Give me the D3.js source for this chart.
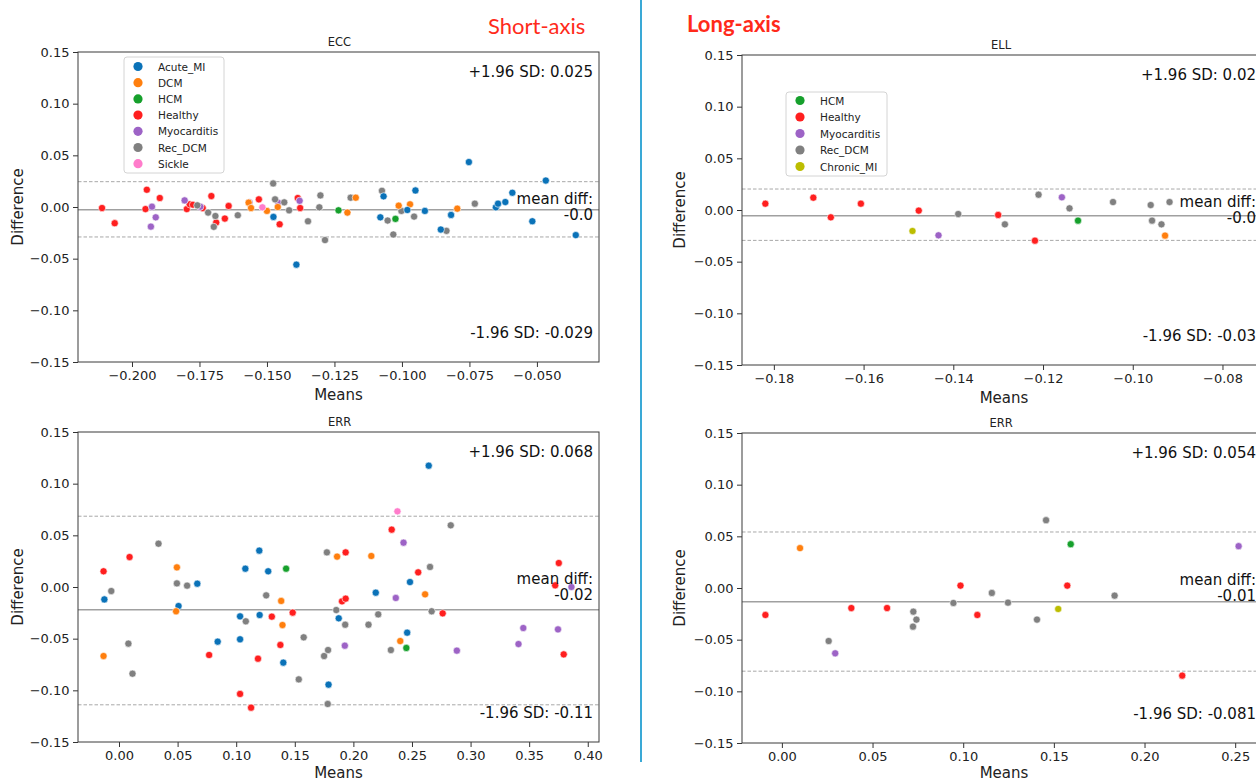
<!DOCTYPE html>
<html><head><meta charset="utf-8">
<script src="https://cdn.jsdelivr.net/npm/d3@7"></script>
<style>body{margin:0;background:#fff}svg{display:block}text{font-family:"DejaVu Sans",sans-serif}</style>
</head><body><svg id="c" width="1256" height="783"></svg>
<script>
// ---------- DATA ----------
const groupNames  = ["Acute_MI","DCM","HCM","Healthy","Myocarditis","Rec_DCM","Sickle","Chronic_MI"];
const groupColors = ["#0a72b8","#ff7f0e","#16a02c","#ff1f1f","#9d63c6","#808080","#ff7ccb","#bcbd00"];

// [group, mean, difference]
const eccPoints = [
 ["Healthy",-0.2111,-0.0010],["Healthy",-0.2064,-0.0157],["Healthy",-0.1945,0.0167],["Healthy",-0.1950,-0.0020],
 ["Healthy",-0.1897,0.0087],["Healthy",-0.1797,-0.0020],["Healthy",-0.1786,0.0026],["Healthy",-0.1774,0.0022],
 ["Healthy",-0.1738,-0.0010],["Healthy",-0.1706,0.0106],["Healthy",-0.1688,-0.0150],["Healthy",-0.1656,-0.0112],
 ["Healthy",-0.1642,0.0010],["Healthy",-0.1530,0.0074],["Healthy",-0.1453,-0.0167],["Healthy",-0.1386,0.0087],
 ["Healthy",-0.1377,-0.0010],
 ["Myocarditis",-0.1926,0.0003],["Myocarditis",-0.1930,-0.0190],["Myocarditis",-0.1912,-0.0100],["Myocarditis",-0.1805,0.0064],
 ["Myocarditis",-0.1747,0.0003],["Myocarditis",-0.1565,0.0045],["Myocarditis",-0.1458,0.0040],["Myocarditis",-0.1379,0.0060],
 ["Rec_DCM",-0.1758,0.0016],["Rec_DCM",-0.1718,-0.0054],["Rec_DCM",-0.1691,-0.0087],["Rec_DCM",-0.1697,-0.0192],
 ["Rec_DCM",-0.1608,-0.0080],["Rec_DCM",-0.1477,0.0228],["Rec_DCM",-0.1470,0.0074],["Rec_DCM",-0.1436,0.0045],
 ["Rec_DCM",-0.1418,-0.0032],["Rec_DCM",-0.1348,-0.0138],["Rec_DCM",-0.1306,-0.0003],["Rec_DCM",-0.1302,0.0112],
 ["Rec_DCM",-0.1285,-0.0320],["Rec_DCM",-0.1190,0.0090],["Rec_DCM",-0.1074,0.0157],["Rec_DCM",-0.1053,-0.0131],
 ["Rec_DCM",-0.1032,-0.0266],["Rec_DCM",-0.1002,-0.0038],["Rec_DCM",-0.0955,-0.0093],["Rec_DCM",-0.0835,-0.0231],
 ["Rec_DCM",-0.0730,0.0032],
 ["DCM",-0.1568,0.0042],["DCM",-0.1559,-0.0010],["DCM",-0.1500,-0.0038],["DCM",-0.1460,0.0000],
 ["DCM",-0.1202,-0.0054],["DCM",-0.1171,0.0090],["DCM",-0.1012,0.0013],["DCM",-0.0970,0.0026],["DCM",-0.0795,-0.0016],
 ["Sickle",-0.1517,-0.0003],
 ["Acute_MI",-0.1476,-0.0096],["Acute_MI",-0.1391,-0.0558],["Acute_MI",-0.1080,-0.0100],["Acute_MI",-0.1068,0.0103],
 ["Acute_MI",-0.0980,-0.0029],["Acute_MI",-0.0950,0.0160],["Acute_MI",-0.0915,-0.0038],["Acute_MI",-0.0856,-0.0218],
 ["Acute_MI",-0.0818,-0.0077],["Acute_MI",-0.0752,0.0435],["Acute_MI",-0.0652,-0.0003],["Acute_MI",-0.0644,0.0032],
 ["Acute_MI",-0.0617,0.0048],["Acute_MI",-0.0591,0.0138],["Acute_MI",-0.0517,-0.0138],["Acute_MI",-0.0467,0.0256],
 ["Acute_MI",-0.0356,-0.0272],
 ["HCM",-0.1235,-0.0032],["HCM",-0.1024,-0.0115]
];

const errShortPoints = [
 ["Acute_MI",0.2643,0.1174],["Acute_MI",0.1197,0.0352],["Acute_MI",0.1078,0.0177],["Acute_MI",0.1273,0.0152],
 ["Acute_MI",0.2483,0.0048],["Acute_MI",0.0668,0.0032],["Acute_MI",-0.0125,-0.0120],["Acute_MI",0.0508,-0.0184],
 ["Acute_MI",0.0842,-0.0529],["Acute_MI",0.1033,-0.0284],["Acute_MI",0.1033,-0.0506],["Acute_MI",0.1200,-0.0271],
 ["Acute_MI",0.1402,-0.0732],["Acute_MI",0.1788,-0.0945],["Acute_MI",0.1875,-0.0303],["Acute_MI",0.2191,-0.0055],
 ["Acute_MI",0.2459,-0.0442],
 ["Sickle",0.2376,0.0732],
 ["Rec_DCM",0.2831,0.0597],["Rec_DCM",0.0337,0.0419],["Rec_DCM",0.1774,0.0335],["Rec_DCM",0.2654,0.0194],
 ["Rec_DCM",0.0494,0.0035],["Rec_DCM",0.0581,0.0013],["Rec_DCM",-0.0066,-0.0039],["Rec_DCM",0.0080,-0.0548],
 ["Rec_DCM",0.0115,-0.0839],["Rec_DCM",0.1082,-0.0332],["Rec_DCM",0.1256,-0.0081],["Rec_DCM",0.1576,-0.0487],
 ["Rec_DCM",0.1534,-0.0894],["Rec_DCM",0.1750,-0.0668],["Rec_DCM",0.1784,-0.0610],["Rec_DCM",0.1781,-0.1132],
 ["Rec_DCM",0.1854,-0.0223],["Rec_DCM",0.1930,-0.0365],["Rec_DCM",0.2129,-0.0365],["Rec_DCM",0.2212,-0.0265],
 ["Rec_DCM",0.2320,-0.0610],["Rec_DCM",0.2668,-0.0235],
 ["Healthy",0.2327,0.0555],["Healthy",0.1934,0.0335],["Healthy",0.0090,0.0290],["Healthy",0.3753,0.0232],
 ["Healthy",-0.0132,0.0152],["Healthy",0.2553,0.0142],["Healthy",0.3722,0.0016],["Healthy",0.0769,-0.0658],
 ["Healthy",0.1033,-0.1035],["Healthy",0.1127,-0.1168],["Healthy",0.1186,-0.0694],["Healthy",0.1304,-0.0287],
 ["Healthy",0.1377,-0.0561],["Healthy",0.1482,-0.0248],["Healthy",0.1903,-0.0139],["Healthy",0.1934,-0.0113],
 ["Healthy",0.2762,-0.0255],["Healthy",0.3795,-0.0652],
 ["Myocarditis",0.2428,0.0429],["Myocarditis",0.3861,0.0000],["Myocarditis",0.1927,-0.0568],["Myocarditis",0.2362,-0.0106],
 ["Myocarditis",0.2883,-0.0616],["Myocarditis",0.3409,-0.0552],["Myocarditis",0.3450,-0.0397],["Myocarditis",0.3746,-0.0410],
 ["DCM",0.1861,0.0294],["DCM",0.2153,0.0300],["DCM",0.0494,0.0190],["DCM",-0.0132,-0.0668],
 ["DCM",0.0487,-0.0235],["DCM",0.1384,-0.0135],["DCM",0.1395,-0.0368],["DCM",0.2400,-0.0523],["DCM",0.2612,-0.0071],
 ["HCM",0.1426,0.0177],["HCM",0.2452,-0.0590]
];

const ellPoints = [
 ["Healthy",-0.1819,0.0061],["Healthy",-0.1712,0.0119],["Healthy",-0.1673,-0.0071],["Healthy",-0.1606,0.0061],
 ["Healthy",-0.1477,-0.0006],["Healthy",-0.1300,-0.0048],["Healthy",-0.1218,-0.0297],
 ["Chronic_MI",-0.1491,-0.0203],
 ["Myocarditis",-0.1433,-0.0245],["Myocarditis",-0.1158,0.0123],
 ["Rec_DCM",-0.1389,-0.0039],["Rec_DCM",-0.1285,-0.0139],["Rec_DCM",-0.1210,0.0148],["Rec_DCM",-0.1141,0.0016],
 ["Rec_DCM",-0.1044,0.0077],["Rec_DCM",-0.0960,0.0048],["Rec_DCM",-0.0957,-0.0103],["Rec_DCM",-0.0936,-0.0139],
 ["Rec_DCM",-0.0918,0.0077],
 ["HCM",-0.1122,-0.0103],
 ["DCM",-0.0928,-0.0248]
];

const errLongPoints = [
 ["Healthy",-0.0091,-0.0261],["Healthy",0.0383,-0.0194],["Healthy",0.0580,-0.0194],["Healthy",0.0985,0.0023],
 ["Healthy",0.1078,-0.0261],["Healthy",0.1574,0.0023],["Healthy",0.2208,-0.0848],
 ["DCM",0.0100,0.0386],
 ["Rec_DCM",0.0258,-0.0513],["Rec_DCM",0.0725,-0.0229],["Rec_DCM",0.0723,-0.0374],["Rec_DCM",0.0742,-0.0306],
 ["Rec_DCM",0.0946,-0.0145],["Rec_DCM",0.1158,-0.0048],["Rec_DCM",0.1247,-0.0142],["Rec_DCM",0.1407,-0.0306],
 ["Rec_DCM",0.1835,-0.0074],["Rec_DCM",0.1457,0.0656],
 ["Myocarditis",0.0294,-0.0632],["Myocarditis",0.2519,0.0405],
 ["Chronic_MI",0.1524,-0.0203],
 ["HCM",0.1593,0.0424]
];

// [upper +1.96 SD, mean diff, lower -1.96 SD]
const eccLines      = [0.0245, -0.0026, -0.0290];
const errShortLines = [0.0685, -0.0220, -0.1140];
const ellLines      = [0.0203, -0.0055, -0.0294];
const errLongLines  = [0.0542, -0.0133, -0.0805];

// [upper label, "mean diff:", mean value, lower label]
const eccLabels      = ["+1.96 SD: 0.025","mean diff:","-0.0","-1.96 SD: -0.029"];
const errShortLabels = ["+1.96 SD: 0.068","mean diff:","-0.02","-1.96 SD: -0.11"];
const ellLabels      = ["+1.96 SD: 0.02","mean diff:","-0.0","-1.96 SD: -0.03"];
const errLongLabels  = ["+1.96 SD: 0.054","mean diff:","-0.01","-1.96 SD: -0.081"];

const yTicks         = [-0.15,-0.10,-0.05,0.00,0.05,0.10,0.15];
const eccXTicks      = [-0.200,-0.175,-0.150,-0.125,-0.100,-0.075,-0.050];
const errShortXTicks = [0.00,0.05,0.10,0.15,0.20,0.25,0.30,0.35,0.40];
const ellXTicks      = [-0.18,-0.16,-0.14,-0.12,-0.10,-0.08];
const errLongXTicks  = [0.00,0.05,0.10,0.15,0.20,0.25];

const shortLegend = ["Acute_MI","DCM","HCM","Healthy","Myocarditis","Rec_DCM","Sickle"];
const longLegend  = ["HCM","Healthy","Myocarditis","Rec_DCM","Chronic_MI"];

// ---------- DRAW ----------
const color = d3.scaleOrdinal(groupNames, groupColors);
const svg = d3.select("#c");
svg.append("rect").attr("width",1256).attr("height",783).attr("fill","#fff");

const panels = [
 {title:"ECC", pts:eccPoints, lines:eccLines, labels:eccLabels, xt:eccXTicks, fmt:".3f",
  L:78, R:599, T:52, B:362, xd:[-0.2200,-0.0270], ylx:18, tOff:6, mOff:38,
  legend:shortLegend, lg:{x:124,y:57,w:100,h:116,mx:138,tx:158,y0:66.5,dy:16.2}},
 {title:"ERR", pts:errShortPoints, lines:errShortLines, labels:errShortLabels, xt:errShortXTicks, fmt:".2f",
  L:78, R:599, T:432, B:742, xd:[-0.0350,0.4096], ylx:18, tOff:6, mOff:36},
 {title:"ELL", pts:ellPoints, lines:ellLines, labels:ellLabels, xt:ellXTicks, fmt:".2f",
  L:742, R:1266, T:55, B:365, xd:[-0.1871,-0.0703], ylx:680, tOff:10, mOff:38,
  legend:longLegend, lg:{x:786,y:92,w:101,h:84,mx:800,tx:820,y0:100.5,dy:16.5}},
 {title:"ERR", pts:errLongPoints, lines:errLongLines, labels:errLongLabels, xt:errLongXTicks, fmt:".2f",
  L:742, R:1266, T:433, B:743, xd:[-0.0220,0.2670], ylx:680, tOff:10, mOff:35}
];

panels.forEach(p => {
  const x = d3.scaleLinear().domain(p.xd).range([p.L, p.R]);
  const y = d3.scaleLinear().domain([-0.15, 0.15]).range([p.B, p.T]);
  const g = svg.append("g");

  // reference lines
  p.lines.forEach((v,i) => {
    g.append("line").attr("x1",p.L).attr("x2",p.R).attr("y1",y(v)).attr("y2",y(v))
     .attr("stroke", i===1 ? "#a0a0a0" : "#a8a8a8")
     .attr("stroke-width", i===1 ? 1.5 : 1)
     .attr("stroke-dasharray", i===1 ? null : "3.5,2");
  });

  // points
  g.append("g").selectAll("circle").data(p.pts).join("circle")
   .attr("cx", d => x(d[1])).attr("cy", d => y(d[2])).attr("r", 3.6)
   .attr("fill", d => color(d[0])).attr("stroke","#fff").attr("stroke-width",0.6);

  // axes
  const ax = g.append("g").attr("transform",`translate(0,${p.B})`)
    .call(d3.axisBottom(x).tickValues(p.xt).tickFormat(d3.format(p.fmt)).tickSize(5).tickSizeOuter(0).tickPadding(3.5));
  const ay = g.append("g").attr("transform",`translate(${p.L},0)`)
    .call(d3.axisLeft(y).tickValues(yTicks).tickFormat(d3.format(".2f")).tickSize(5).tickSizeOuter(0).tickPadding(3.5));
  [ax, ay].forEach(a => {
    a.select(".domain").remove();
    a.selectAll("line").attr("stroke","#333").attr("stroke-width",1);
    a.selectAll("text").attr("fill","#222").style("font-size","13px");
  });

  // spines
  g.append("rect").attr("x",p.L).attr("y",p.T).attr("width",p.R-p.L).attr("height",p.B-p.T)
   .attr("fill","none").attr("stroke","#3a3a3a").attr("stroke-width",1);

  // title & axis labels
  g.append("text").attr("x",(p.L+p.R)/2 + (p.L>700 ? -3 : 1)).attr("y",p.T-6).attr("text-anchor","middle")
   .style("font-size","11.5px").attr("fill","#222").text(p.title);
  g.append("text").attr("x",(p.L+p.R)/2).attr("y",p.B+p.mOff).attr("text-anchor","middle")
   .style("font-size","15px").attr("fill","#222").text("Means");
  g.append("text").attr("transform",`translate(${p.ylx},${(p.T+p.B)/2}) rotate(-90)`)
   .attr("text-anchor","middle").attr("dominant-baseline","central")
   .style("font-size","15px").attr("fill","#222").text("Difference");

  // annotations
  const tx = p.R - p.tOff, mid = (p.T+p.B)/2;
  const ann = [[p.labels[0], p.T+20],[p.labels[1], mid-8.5],[p.labels[2], mid+8],[p.labels[3], p.B-29.5]];
  ann.forEach(a => g.append("text").attr("x",tx).attr("y",a[1]).attr("text-anchor","end")
    .attr("dominant-baseline","central").style("font-size","15px").attr("fill","#111").text(a[0]));

  // legend
  if (p.legend) {
    const lg = p.lg;
    g.append("rect").attr("x",lg.x).attr("y",lg.y).attr("width",lg.w).attr("height",lg.h)
     .attr("rx",3).attr("fill","#fff").attr("fill-opacity",0.85).attr("stroke","#d4d4d4").attr("stroke-width",1);
    const it = g.append("g").selectAll("g").data(p.legend).join("g")
      .attr("transform",(d,i)=>`translate(0,${lg.y0 + i*lg.dy})`);
    it.append("circle").attr("cx",lg.mx).attr("cy",0).attr("r",4.6).attr("fill",d=>color(d));
    it.append("text").attr("x",lg.tx).attr("y",0).attr("dominant-baseline","central")
      .style("font-size","10.5px").attr("fill","#222").text(d=>d);
  }
});

// panel headings and separator
svg.append("text").attr("x",488).attr("y",25).attr("dominant-baseline","central")
  .style("font-family","Lato, 'Open Sans', sans-serif").style("font-size","22px").attr("fill","#ff2a1a").text("Short-axis");
svg.append("text").attr("x",687).attr("y",23).attr("dominant-baseline","central")
  .style("font-family","Lato, 'Open Sans', sans-serif").style("font-size","22px").style("font-weight","bold").attr("fill","#ff2a1a").text("Long-axis");
svg.append("line").attr("x1",641).attr("x2",641).attr("y1",0).attr("y2",762)
  .attr("stroke","#3aa9d6").attr("stroke-width",2);
</script></body></html>
